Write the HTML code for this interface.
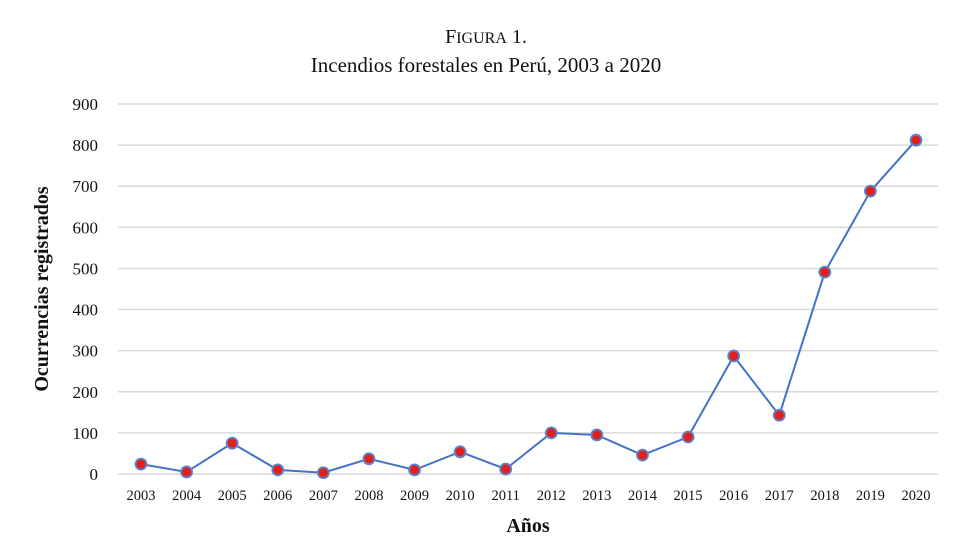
<!DOCTYPE html>
<html><head><meta charset="utf-8"><style>
body{margin:0;background:#fff;}
svg{display:block;font-family:"Liberation Serif",serif;}
</style></head><body>
<svg id="chart" width="972" height="556">
<text x="486" y="43" text-anchor="middle" font-size="20" fill="#111">F<tspan font-size="16">IGURA</tspan> 1.</text>
<text x="486" y="72" text-anchor="middle" font-size="21" fill="#111">Incendios forestales en Perú, 2003 a 2020</text>
<g id="grid"></g><g id="yticks"></g><g id="xticks"></g><g id="series"></g>
<text transform="translate(48,289) rotate(-90)" text-anchor="middle" font-size="20" font-weight="bold" fill="#111">Ocurrencias registrados</text>
<text x="528" y="532" text-anchor="middle" font-size="20" font-weight="bold" fill="#111">Años</text>
</svg>
<script>
const years=[2003,2004,2005,2006,2007,2008,2009,2010,2011,2012,2013,2014,2015,2016,2017,2018,2019,2020];
const values=[24,5,75,10,3,37,10,54,12,100,95,46,90,287,143,491,688,812];
const yTicks=[0,100,200,300,400,500,600,700,800,900];
const NS="http://www.w3.org/2000/svg";
const x0=141,x1=916,yb=474,yt=104,ymax=900,left=118,right=938;
const xs=i=>x0+(x1-x0)*i/(years.length-1);
const ys=v=>yb-(yb-yt)*v/ymax;
function mk(tag,attrs,parent){const e=document.createElementNS(NS,tag);for(const k in attrs)e.setAttribute(k,attrs[k]);document.getElementById(parent).appendChild(e);return e;}
yTicks.forEach(t=>{
 const l=mk('line',{x1:left,x2:right,y1:ys(t),y2:ys(t),stroke:'#d9d9d9','stroke-width':1.5},'grid');
 
 
 const tx=mk('text',{x:98,y:ys(t)+6,'text-anchor':'end','font-size':17,fill:'#111'},'yticks');
 tx.textContent=t;
 
 
});
years.forEach((y,i)=>{
 const tx=mk('text',{x:xs(i),y:500,'text-anchor':'middle','font-size':14.5,fill:'#111'},'xticks');
 tx.textContent=y;
 
 
});
const pts=values.map((v,i)=>xs(i)+','+ys(v)).join(' ');
const pl=mk('polyline',{points:pts,fill:'none',stroke:'#4472c4','stroke-width':2},'series');


values.forEach((v,i)=>{
 const c=mk('circle',{cx:xs(i),cy:ys(v),r:5.5,fill:'#e0201b',stroke:'#5b84d0','stroke-width':1.8},'series');
 
 
});
</script>
</body></html>
